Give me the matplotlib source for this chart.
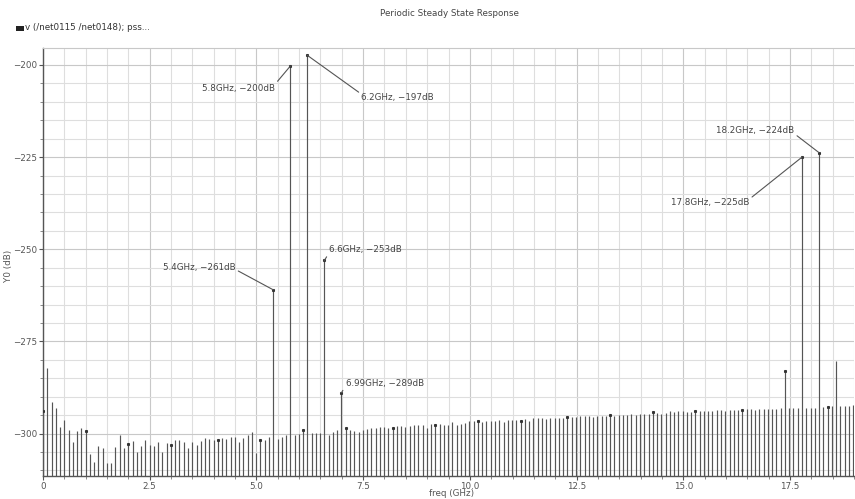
import matplotlib
matplotlib.use('Agg')
import matplotlib.pyplot as plt
import numpy as np
from matplotlib.ticker import MultipleLocator, FuncFormatter
from matplotlib.patches import Rectangle

# ---------------- data ----------------
fundamental_ghz = 0.0999
harmonics = np.arange(0, 191)
level_db = [
    -294.0, -282.2, -291.5, -293.0, -298.1, -296.4, -298.9, -302.2, -299.2, -298.4,
    -299.4, -305.5, -307.8, -303.3, -303.8, -307.9, -307.9, -303.6, -300.3, -304.0,
    -302.8, -302.1, -305.1, -303.3, -301.6, -303.0, -303.3, -302.3, -305.0, -302.5,
    -303.1, -301.8, -301.6, -302.2, -303.9, -302.2, -303.1, -302.0, -301.2, -301.5,
    -301.8, -301.6, -301.3, -301.4, -301.0, -300.9, -302.3, -301.1, -300.3, -299.6,
    -305.2, -301.8, -301.7, -300.9, -261.0, -301.5, -301.0, -300.3, -200.3, -300.5,
    -300.0, -299.1, -197.4, -299.9, -299.8, -299.8, -253.0, -300.5, -299.6, -299.1,
    -288.9, -298.6, -299.1, -299.2, -299.6, -299.1, -298.7, -298.6, -298.6, -298.2,
    -298.3, -298.5, -298.5, -298.0, -298.0, -298.2, -298.0, -297.8, -297.8, -297.6,
    -298.5, -297.4, -297.6, -297.5, -297.6, -297.6, -296.9, -297.6, -297.3, -297.1,
    -296.7, -296.7, -296.7, -296.9, -296.7, -296.7, -296.6, -296.4, -296.8, -296.3,
    -296.3, -296.4, -296.7, -296.1, -296.5, -295.9, -295.9, -295.9, -296.0, -295.9,
    -295.7, -295.7, -295.7, -295.5, -295.6, -295.5, -295.3, -295.3, -295.3, -295.5,
    -295.3, -295.1, -295.1, -294.9, -295.1, -295.0, -295.0, -294.9, -294.8, -294.9,
    -294.8, -294.7, -294.8, -294.2, -294.5, -294.6, -294.3, -294.0, -294.2, -293.9,
    -294.0, -294.1, -294.1, -294.0, -293.8, -293.8, -293.8, -293.9, -293.7, -293.7,
    -293.9, -293.7, -293.7, -293.7, -293.7, -293.4, -293.4, -293.5, -293.2, -293.4,
    -293.4, -293.2, -293.2, -293.1, -283.1, -293.0, -293.0, -293.0, -225.0, -293.0,
    -293.0, -293.0, -223.8, -292.8, -292.8, -292.5, -280.4, -292.5, -292.5, -292.6,
    -292.3,
]
dot_harmonics = [0, 10, 20, 30, 41, 51, 61, 71, 82, 92, 102, 112, 123, 133, 143,
                 153, 164, 174, 184]
marker_harmonics = [58, 62, 54, 66, 70, 182, 178]
marker_labels = ["5.8GHz, \u2212200dB", "6.2GHz, \u2212197dB", "5.4GHz, \u2212261dB",
                 "6.6GHz, \u2212253dB", "6.99GHz, \u2212289dB", "18.2GHz, \u2212224dB",
                 "17.8GHz, \u2212225dB"]
# label placement (layout only): (x, y, ha, relpos)
label_layout = [
    (5.43, -206.3, 'right', (1.0, 0.9)),
    (7.46, -208.9, 'left', (0.0, 0.9)),
    (4.51, -255.0, 'right', (1.0, 0.3)),
    (6.71, -250.1, 'left', (0.0, 0.2)),
    (7.09, -286.3, 'left', (0.0, 0.2)),
    (15.77, -217.9, 'left', (1.0, 0.2)),
    (14.71, -237.4, 'left', (1.0, 0.9)),
]

freq = harmonics * fundamental_ghz
level = np.array(level_db)

# ---------------- figure ----------------
W, H = 855, 499
fig = plt.figure(figsize=(W / 100, H / 100), dpi=100)
ax = fig.add_axes([43 / W, (H - 476) / H, (854 - 43) / W, (476 - 48) / H])

ymin, ymax = -311.5, -195.4
ax.set_xlim(0, 19.0)
ax.set_ylim(ymin, ymax)

# grid
ax.xaxis.set_major_locator(MultipleLocator(2.5))
ax.xaxis.set_minor_locator(MultipleLocator(0.5))
ax.yaxis.set_major_locator(MultipleLocator(25))
ax.yaxis.set_minor_locator(MultipleLocator(5))
ax.grid(which='major', color='#c8c8c8', lw=0.8)
ax.grid(which='minor', color='#dedede', lw=0.8)
ax.set_axisbelow(True)

# stems
ax.vlines(freq, ymin, level, colors='#555555', lw=0.85, zorder=3)
dot_idx = sorted(set(dot_harmonics) | set(marker_harmonics))
ax.plot(freq[dot_idx], level[dot_idx], 's', ms=1.2, color='#333333', zorder=4)

# annotations
for k, lab, (tx, ty, ha, rp) in zip(marker_harmonics, marker_labels, label_layout):
    ax.annotate(lab, xy=(freq[k], level[k]), xytext=(tx, ty),
                ha=ha, va='center', fontsize=6.3, color='#444444',
                arrowprops=dict(arrowstyle='-', color='#555555', lw=0.8,
                                relpos=rp, shrinkA=0, shrinkB=0), zorder=5)

# ticks / spines
fmt_x = FuncFormatter(lambda v, p: '0' if abs(v) < 1e-9 else f'{v:.1f}')
ax.xaxis.set_major_formatter(fmt_x)
ax.yaxis.set_major_formatter(FuncFormatter(lambda v, p: f'\u2212{abs(v):.0f}' if v < 0 else f'{v:.0f}'))
ax.tick_params(which='major', length=3, width=0.8, color='#555555', labelsize=6.3,
               labelcolor='#555555', pad=1.2)
ax.tick_params(which='minor', length=2, width=0.6, color='#777777')
for s in ['left', 'bottom']:
    ax.spines[s].set_color('#555555')
    ax.spines[s].set_linewidth(1.0)
ax.spines['top'].set_color('#c8c8c8')
ax.spines['right'].set_visible(False)

ax.set_xlabel('freq (GHz)', fontsize=6.3, color='#555555')
ax.xaxis.set_label_coords(0.504, -0.031)
ax.set_ylabel('Y0 (dB)', fontsize=6.3, color='#555555', labelpad=0)
ax.yaxis.set_label_coords(-0.037, 0.49)

fig.text(449 / W, 1 - 13 / H, 'Periodic Steady State Response', ha='center',
         va='center', fontsize=6.3, color='#444444')
fig.patches.append(Rectangle((16 / W, 1 - 31 / H), 8 / W, 5 / H, transform=fig.transFigure,
                             facecolor='#222222', edgecolor='none'))
fig.text(25 / W, 1 - 28 / H, 'v (/net0115 /net0148); pss...', ha='left', va='center',
         fontsize=6.3, color='#333333')

fig.savefig('out.png', dpi=100)
